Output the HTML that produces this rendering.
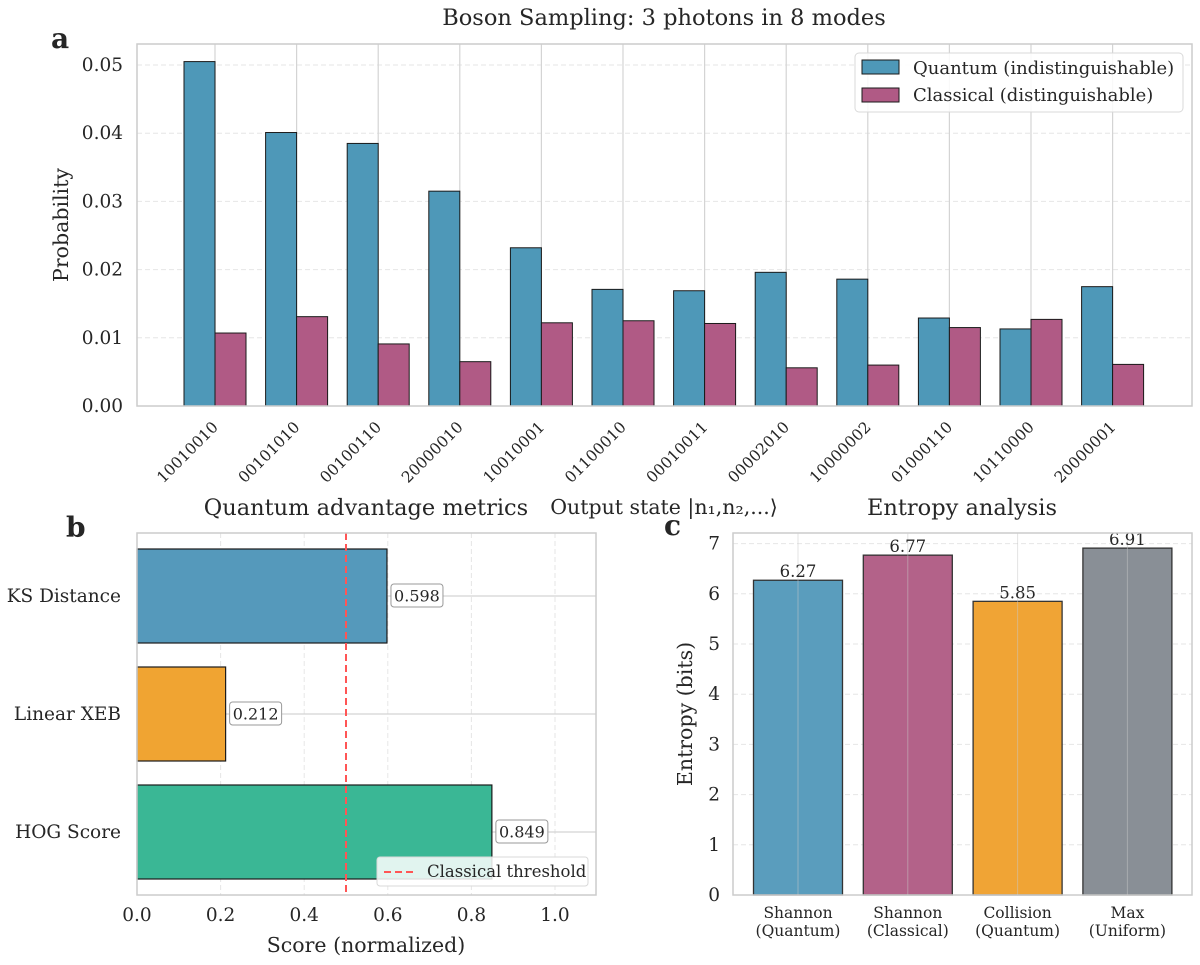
<!DOCTYPE html>
<html><head><meta charset="utf-8"><style>
body{margin:0;background:#fff}
svg{display:block;font-family:"DejaVu Serif","Liberation Serif",serif;fill:#262626}
</style></head><body>
<svg id="fig" width="1200" height="965" viewBox="0 0 1200 965">
<g id="ga"></g>
<g id="gb"></g>
<g id="gc"></g>
</svg>
<script>
const states=["10010010","00101010","00100110","20000010","10010001","01100010","00010011","00002010","10000002","01000110","10110000","20000001"];
const quantumProb=[0.0505,0.0401,0.0385,0.0315,0.0232,0.0171,0.0169,0.0196,0.0186,0.0129,0.0113,0.0175];
const classicalProb=[0.0107,0.0131,0.0091,0.0065,0.0122,0.0125,0.0121,0.0056,0.0060,0.0115,0.0127,0.0061];
const probTicks=[0,0.01,0.02,0.03,0.04,0.05];
const metricNames=["KS Distance","Linear XEB","HOG Score"];
const metricValues=[0.598,0.212,0.849];
const scoreTicks=[0,0.2,0.4,0.6,0.8,1.0];
const threshold=0.5;
const entropyNames=[["Shannon","(Quantum)"],["Shannon","(Classical)"],["Collision","(Quantum)"],["Max","(Uniform)"]];
const entropyValues=[6.27,6.77,5.85,6.91];
const entropyTicks=[0,1,2,3,4,5,6,7];

const NS="http://www.w3.org/2000/svg";
function mk(parent,tag,attrs,text){const e=document.createElementNS(NS,tag);for(const k in attrs)e.setAttribute(k,attrs[k]);if(text!==undefined)e.textContent=text;parent.appendChild(e);return e;}
const TK=18.5, TT=22.5, AX=20.5;

// ---------- Panel A ----------
const ga=document.getElementById('ga');
const aL=137,aR=1192,aT=44,aB=406;
const ax=i=>215+81.6*i;
const ay=v=>aB-v*6820;
let e=mk(ga,'rect',{x:aL,y:aT,width:aR-aL,height:aB-aT,fill:'#fff',stroke:'none'});

probTicks.forEach(t=>{
 if(t>0){e=mk(ga,'line',{x1:aL,x2:aR,y1:ay(t),y2:ay(t),stroke:'#e6e6e6','stroke-dasharray':'5,3'});
 }
 e=mk(ga,'text',{x:aL-14,y:ay(t)+6,'text-anchor':'end','font-size':TK},t.toFixed(2));
 
});
states.forEach((s,i)=>{
 e=mk(ga,'line',{x1:ax(i),x2:ax(i),y1:aT,y2:aB,stroke:'#d4d4d4','stroke-width':1.2});
 
});
states.forEach((s,i)=>{
 const w=31;
 e=mk(ga,'rect',{x:ax(i)-w,y:ay(quantumProb[i]),width:w,height:aB-ay(quantumProb[i]),fill:'#4e98b8',stroke:'#1a1a1a','stroke-width':1});
 
 e=mk(ga,'rect',{x:ax(i),y:ay(classicalProb[i]),width:w,height:aB-ay(classicalProb[i]),fill:'#b05a85',stroke:'#1a1a1a','stroke-width':1});
 
 e=mk(ga,'text',{x:0,y:0,'text-anchor':'end','font-size':15.5,transform:`translate(${ax(i)+4},${aB+22}) rotate(-45)`},s);
 
});
e=mk(ga,'rect',{x:aL,y:aT,width:aR-aL,height:aB-aT,fill:'none',stroke:'#cccccc','stroke-width':1.5});

e=mk(ga,'text',{x:664,y:25,'text-anchor':'middle','font-size':TT},'Boson Sampling: 3 photons in 8 modes');

e=mk(ga,'text',{x:0,y:0,'text-anchor':'middle','font-size':AX,transform:'translate(68,225) rotate(-90)'},'Probability');

e=mk(ga,'text',{x:664,y:514,'text-anchor':'middle','font-size':AX},'Output state |n₁,n₂,...⟩');

e=mk(ga,'text',{x:51,y:48,'font-size':28,'font-weight':'bold'},'a');

const lg=mk(ga,'g',{});

mk(lg,'rect',{x:855,y:53,width:328,height:59,rx:4,fill:'#fff','fill-opacity':0.85,stroke:'#d9d9d9'});
e=mk(lg,'rect',{x:862,y:60,width:37,height:14,fill:'#4e98b8',stroke:'#1a1a1a'});

e=mk(lg,'text',{x:913,y:74,'font-size':18},'Quantum (indistinguishable)');

e=mk(lg,'rect',{x:862,y:88,width:37,height:14,fill:'#b05a85',stroke:'#1a1a1a'});

e=mk(lg,'text',{x:913,y:101,'font-size':18},'Classical (distinguishable)');


// ---------- Panel B ----------
const gb=document.getElementById('gb');
const bL=137,bR=596,bT=533,bB=895;
const bx=v=>bL+v*418;
const by=i=>596+118*i;
const bColors=['#5599bb','#f0a432','#3ab795'];
scoreTicks.forEach(t=>{
 e=mk(gb,'line',{x1:bx(t),x2:bx(t),y1:bT,y2:bB,stroke:'#e6e6e6','stroke-dasharray':'5,3'});
 
 e=mk(gb,'text',{x:bx(t),y:bB+26,'text-anchor':'middle','font-size':TK},t.toFixed(1));
 
});
metricNames.forEach((n,i)=>{
 e=mk(gb,'line',{x1:bL,x2:bR,y1:by(i),y2:by(i),stroke:'#d4d4d4','stroke-width':1.2});
 
});
metricNames.forEach((n,i)=>{
 e=mk(gb,'rect',{x:bL,y:by(i)-47,width:bx(metricValues[i])-bL,height:94,fill:bColors[i],stroke:'#1a1a1a','stroke-width':1.2});
 
 e=mk(gb,'text',{x:bL-16,y:by(i)+6,'text-anchor':'end','font-size':TK},n);
 
 const lx=bx(metricValues[i])+4;
 e=mk(gb,'rect',{x:lx,y:by(i)-12,width:52,height:23,rx:3,fill:'#fff',stroke:'#999'});
 
 e=mk(gb,'text',{x:lx+26,y:by(i)+5.5,'text-anchor':'middle','font-size':16},metricValues[i].toFixed(3));
 
});
e=mk(gb,'line',{x1:bx(threshold),x2:bx(threshold),y1:bT,y2:bB,stroke:'#ff5555','stroke-width':2,'stroke-dasharray':'7,4'});

e=mk(gb,'rect',{x:bL,y:bT,width:bR-bL,height:bB-bT,fill:'none',stroke:'#cccccc','stroke-width':1.5});

const lb=mk(gb,'g',{});

mk(lb,'rect',{x:377,y:857,width:211,height:29,rx:3,fill:'#fff','fill-opacity':0.85,stroke:'#d9d9d9'});
mk(lb,'line',{x1:384,x2:415,y1:872,y2:872,stroke:'#ff5555','stroke-width':2,'stroke-dasharray':'7,4'});
e=mk(lb,'text',{x:427,y:877,'font-size':16.5},'Classical threshold');

e=mk(gb,'text',{x:366,y:515,'text-anchor':'middle','font-size':TT},'Quantum advantage metrics');

e=mk(gb,'text',{x:366,y:952,'text-anchor':'middle','font-size':AX},'Score (normalized)');

e=mk(gb,'text',{x:66,y:537,'font-size':28,'font-weight':'bold'},'b');


// ---------- Panel C ----------
const gc=document.getElementById('gc');
const cL=733,cR=1192,cT=533,cB=895;
const cx=i=>798+109.8*i;
const cy=v=>cB-v*50.2;
const cColors=['#5a9dbd','#b36289','#f0a435','#898f96'];
entropyTicks.forEach(t=>{
 if(t>0){e=mk(gc,'line',{x1:cL,x2:cR,y1:cy(t),y2:cy(t),stroke:'#e6e6e6','stroke-dasharray':'5,3'});
 }
 e=mk(gc,'text',{x:cL-13,y:cy(t)+6,'text-anchor':'end','font-size':TK},String(t));
 
});
entropyValues.forEach((v,i)=>{
 e=mk(gc,'rect',{x:cx(i)-44.5,y:cy(v),width:89,height:cB-cy(v),fill:cColors[i],stroke:'#333','stroke-width':1.3});
 
 e=mk(gc,'line',{x1:cx(i),x2:cx(i),y1:cT,y2:cB,stroke:'#c8c8c8','stroke-width':1,'stroke-opacity':0.5});
 
 e=mk(gc,'text',{x:cx(i),y:cy(v)-3,'text-anchor':'middle','font-size':16.5},v.toFixed(2));
 
 e=mk(gc,'text',{x:cx(i),y:cB+23,'text-anchor':'middle','font-size':15.5},entropyNames[i][0]);
 
 e=mk(gc,'text',{x:cx(i),y:cB+41,'text-anchor':'middle','font-size':15.5},entropyNames[i][1]);
 
});
e=mk(gc,'rect',{x:cL,y:cT,width:cR-cL,height:cB-cT,fill:'none',stroke:'#cccccc','stroke-width':1.5});

e=mk(gc,'text',{x:962,y:515,'text-anchor':'middle','font-size':TT},'Entropy analysis');

e=mk(gc,'text',{x:0,y:0,'text-anchor':'middle','font-size':AX,transform:'translate(692,714) rotate(-90)'},'Entropy (bits)');

e=mk(gc,'text',{x:664,y:535,'font-size':28,'font-weight':'bold'},'c');

</script>
</body></html>
